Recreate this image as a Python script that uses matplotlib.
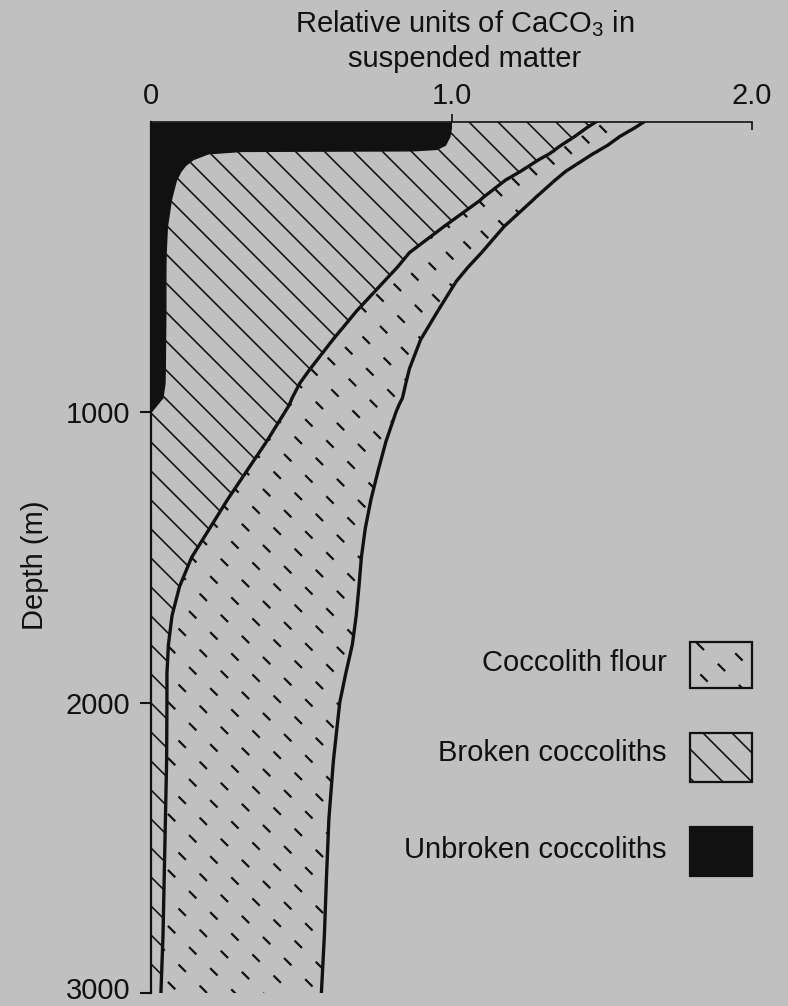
import numpy as np
import matplotlib
matplotlib.use('Agg')
import matplotlib.pyplot as plt
import matplotlib.transforms as mtransforms
from matplotlib.collections import LineCollection
from matplotlib.patches import Rectangle
from matplotlib.markers import TICKDOWN

# ---------------- data ----------------
depth = [0, 20, 50, 80, 95, 100, 102, 110, 130, 150, 170, 200, 260, 270, 360,
         450, 500, 550, 650, 750, 850, 900, 950, 975, 1000, 1100, 1200, 1300,
         1400, 1500, 1600, 1700, 1800, 1900, 2000, 2200, 2400, 2600, 2800, 3000]

# cumulative boundaries (relative units of CaCO3)
unbroken_edge = [1.00, 1.00, 0.995, 0.98, 0.95, 0.87, 0.30, 0.19, 0.14, 0.115,
                 0.10, 0.085, 0.07, 0.068, 0.055, 0.051, 0.05, 0.05, 0.05,
                 0.049, 0.048, 0.047, 0.04, 0.02, 0.0, 0.0, 0.0, 0.0, 0.0,
                 0.0, 0.0, 0.0, 0.0, 0.0, 0.0, 0.0, 0.0, 0.0, 0.0, 0.0]
broken_edge = [1.48, 1.45, 1.41, 1.365, 1.345, 1.34, 1.336, 1.325, 1.29, 1.26,
               1.23, 1.18, 1.105, 1.095, 0.975, 0.86, 0.82, 0.775, 0.685,
               0.605, 0.53, 0.495, 0.47, 0.46, 0.445, 0.385, 0.32, 0.255,
               0.195, 0.135, 0.095, 0.07, 0.058, 0.053, 0.053, 0.052, 0.048,
               0.044, 0.04, 0.033]
flour_edge = [1.64, 1.61, 1.56, 1.52, 1.495, 1.487, 1.484, 1.47, 1.44, 1.41,
              1.38, 1.345, 1.28, 1.27, 1.175, 1.10, 1.055, 1.015, 0.955,
              0.897, 0.86, 0.848, 0.837, 0.825, 0.815, 0.782, 0.756, 0.732,
              0.713, 0.70, 0.692, 0.683, 0.670, 0.648, 0.628, 0.607, 0.592,
              0.584, 0.577, 0.567]

x_ticks = [0, 1.0, 2.0]
x_tick_labels = ['0', '1.0', '2.0']
y_ticks = [1000, 2000, 3000]
y_tick_labels = ['1000', '2000', '3000']
legend_labels = ['Coccolith flour', 'Broken coccoliths', 'Unbroken coccoliths']
title_lines = ['Relative units of CaCO$_3$ in', 'suspended matter']
y_label = 'Depth (m)'

# ---------------- style ----------------
BG = '#c0c0c0'
INK = '#111111'
FS = 21
plt.rcParams['font.family'] = ['Liberation Sans', 'DejaVu Sans']
plt.rcParams['mathtext.default'] = 'regular'
plt.rcParams['lines.scale_dashes'] = False

W, H = 788, 1006
L, R, T, B = 151, 752, 122, 993
fig = plt.figure(figsize=(W / 100, H / 100), dpi=100, facecolor=BG)
ax = fig.add_axes([L / W, 1 - B / H, (R - L) / W, (B - T) / H])
ax.set_facecolor(BG)
ax.set_xlim(0, 2.0)
ax.set_ylim(3000, 0)

AW, AH = R - L, B - T  # axes size in px


def texture(clip, spacing, lw, dash=None, clip_transform=None):
    """45-degree '\\' texture lines (axes-fraction coordinates) clipped to a shape."""
    segs, styles = [], []
    yt, yb = AH + 60, -60
    for i, c in enumerate(np.arange(-spacing, AW + AH + spacing, spacing)):
        segs.append([((c - yt) / AW, yt / AH), ((c - yb) / AW, yb / AH)])
        if dash is not None:
            on, off = dash
            styles.append(((on + off) / 2 * (i % 2), (on, off)))
    lc = LineCollection(segs, colors=INK, linewidths=lw,
                        linestyles=styles if dash is not None else 'solid',
                        transform=ax.transAxes, zorder=2, capstyle='butt')
    ax.add_collection(lc)
    if clip_transform is None:
        lc.set_clip_path(clip)
    else:
        lc.set_clip_path(clip, clip_transform)
    return lc


# unbroken coccoliths (solid black)
ax.fill_betweenx(depth, 0, unbroken_edge, color=INK, lw=0, zorder=3)

# broken coccoliths (diagonal hatch)
pb = ax.fill_betweenx(depth, unbroken_edge, broken_edge, facecolor='none',
                      lw=0, zorder=1)
texture(pb.get_paths()[0], 29, 1.15, clip_transform=ax.transData)

# coccolith flour (dashed diagonal hatch)
pf = ax.fill_betweenx(depth, broken_edge, flour_edge, facecolor='none',
                      lw=0, zorder=1)
texture(pf.get_paths()[0], 28, 1.6, dash=(7.5, 14.0), clip_transform=ax.transData)

# boundary lines
ax.plot(broken_edge, depth, color=INK, lw=2.4, zorder=4, solid_joinstyle='round')
ax.plot(flour_edge, depth, color=INK, lw=2.4, zorder=4, solid_joinstyle='round')

# ---------------- axes ----------------
for s in ('right', 'bottom'):
    ax.spines[s].set_visible(False)
ax.spines['top'].set_linewidth(1.2)
ax.spines['left'].set_linewidth(1.6)
ax.spines['top'].set_color(INK)
ax.spines['left'].set_color(INK)

ax.xaxis.tick_top()
ax.set_xticks(x_ticks, x_tick_labels)
ax.tick_params(axis='x', direction='out', length=6, width=1.2, pad=3,
               labelsize=FS, colors=INK)
ax.set_yticks(y_ticks, y_tick_labels)
ax.tick_params(axis='y', direction='out', length=8, width=1.5, pad=7,
               labelsize=FS, colors=INK)
xt = ax.xaxis.get_major_ticks()
xt[0].tick2line.set_visible(False)
xt[2].tick2line.set_marker(TICKDOWN)
ylbls = ax.get_yticklabels()
for lbl in ylbls:
    lbl.set_verticalalignment('center_baseline')
# nudge the bottom label up a little so it stays inside the image
ylbls[-1].set_transform(ylbls[-1].get_transform() +
                        mtransforms.ScaledTranslation(0, 5 / 100, fig.dpi_scale_trans))

ax.set_ylabel(y_label, fontsize=FS, color=INK, va='center')
ax.yaxis.set_label_coords(-(L - 35) / AW, (B - 565) / AH)

fig.text(465 / W, 1 - 32 / H, title_lines[0], ha='center', va='baseline',
         fontsize=FS, color=INK)
fig.text(465 / W, 1 - 67 / H, title_lines[1], ha='center', va='baseline',
         fontsize=FS, color=INK)

# ---------------- legend (manual, right-aligned text) ----------------
box_x0 = (690 - L) / AW
box_w = (752 - 690) / AW
boxes = [(642, 688), (733, 782), (827, 876)]
text_x = (667 - L) / AW
text_y = [663, 753, 850]
for k, (lab, (ty, by), cy) in enumerate(zip(legend_labels, boxes, text_y)):
    y0 = (B - by) / AH
    hgt = (by - ty) / AH
    rect = Rectangle((box_x0, y0), box_w, hgt, transform=ax.transAxes,
                     facecolor=INK if k == 2 else 'none', edgecolor=INK,
                     lw=1.6, clip_on=False, zorder=5)
    ax.add_patch(rect)
    if k == 0:
        texture(rect, 28, 1.6, dash=(7.5, 14.0))
    elif k == 1:
        texture(rect, 29, 1.15)
    ax.text(text_x, (B - cy) / AH, lab, transform=ax.transAxes, ha='right',
            va='center', fontsize=FS, color=INK)

fig.savefig('out.png', dpi=100, facecolor=BG)
